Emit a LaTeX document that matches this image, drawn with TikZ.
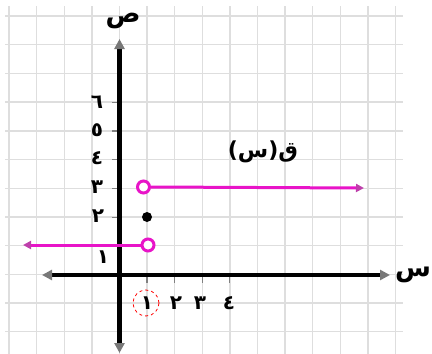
\documentclass[tikz,border=0pt]{standalone}
\usepackage{fontspec}
\usetikzlibrary{arrows.meta}
\newfontfamily\arabicfont[Script=Arabic]{DejaVu Sans}
\newfontfamily\plainfont{DejaVu Sans}
\TeXXeTstate=1
\definecolor{gridc}{RGB}{222,222,222}
\definecolor{mag}{RGB}{232,20,200}
\definecolor{tipc}{RGB}{120,120,120}
\begin{document}
\begin{tikzpicture}[x=1pt,y=-1pt,
  gridline/.style={gridc,line width=1.4pt},
  axisboth/.style={black,line width=4.5pt,{Triangle[length=10pt,width=10pt,color=tipc]}-{Triangle[length=10pt,width=10pt,color=tipc]}},
  magline/.style={mag,line width=3pt,-{Triangle[length=8pt,width=8pt,color=mag!60!gray]}},
  opencirc/.style={circle,draw=mag,line width=3pt,fill=white,minimum size=12pt,inner sep=0pt},
  dotnode/.style={circle,fill=black,minimum size=10pt,inner sep=0pt},
  tick/.style={gray,line width=1.2pt},
  lab/.style={font=\arabicfont\bfseries\fontsize{20}{20}\selectfont,inner sep=0pt},
  axlab/.style={font=\arabicfont\bfseries\fontsize{26}{26}\selectfont,inner sep=0pt}
]
\useasboundingbox (0,0) rectangle (432,354);
% grid
\foreach \k in {0,...,14} \draw[gridline] ({9+27.6*\k},6) -- ({9+27.6*\k},354);
\foreach \k in {0,...,11} \draw[gridline] (5,{16+28.7*\k}) -- (403,{16+28.7*\k});
% ticks
\foreach \k in {1,...,6} \draw[tick] (112,{274.5-28.7*\k}) -- (119.5,{274.5-28.7*\k});
\foreach \k in {1,...,4} \draw[tick] ({119.4+27.6*\k},275) -- ({119.4+27.6*\k},283);
% axes
\coordinate (ybot) at (119.5,353);
\coordinate (ytop) at (119.5,39);
\coordinate (xl) at (42,275);
\coordinate (xr) at (390,275);
\draw[axisboth] (ybot) -- (ytop);
\draw[axisboth] (xl) -- (xr);
% function pieces
\node[opencirc] (c3) at (143.5,187) {};
\node[opencirc] (c1) at (148,245) {};
\node[dotnode] (d2) at (147,217) {};
\coordinate (e3) at (364,188);
\coordinate (e1) at (23,245);
\draw[magline] (c3.east) -- (e3);
\draw[magline] (c1.west) -- (e1);
% axis labels
\node[axlab] (ys) at (123,21) {ص};
\node[axlab] (xs) at (413,275) {س};
% function label: visual order ( س ) ق
\node[font=\bfseries\fontsize{22}{22}\selectfont,inner sep=0pt] (fq) at (263,152) {\plainfont(\hbox{\arabicfont س}\plainfont)\hbox{\arabicfont ق}};
% y labels
\node[lab] (y6) at (97,102) {٦};
\node[lab] (y5) at (97,130) {٥};
\node[lab] (y4) at (97,158) {٤};
\node[lab] (y3) at (97,187) {٣};
\node[lab] (y2) at (98,216) {٢};
\node[lab] (y1) at (103,257) {١};
% x labels
\node[lab] (x1) at (147,303) {١};
\node[lab] (x2) at (176,303) {٢};
\node[lab] (x3) at (200,303) {٣};
\node[lab] (x4) at (229,303) {٤};
\node[circle,draw=red,dashed,line width=0.8pt,minimum size=26pt,inner sep=0pt] (rc) at (146,303) {};
\end{tikzpicture}
\end{document}
